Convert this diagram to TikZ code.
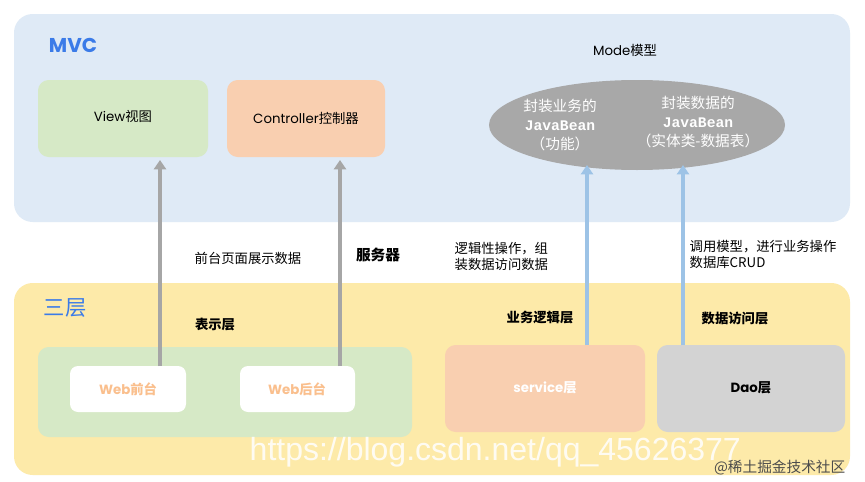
\documentclass[tikz,border=0pt]{standalone}
\usepackage{fontspec}
\setmainfont{Noto Sans CJK SC}
\newfontfamily\lat{Poppins}
\newfontfamily\mon{Liberation Mono}
\usetikzlibrary{shapes.geometric,arrows.meta}
\definecolor{pblue}{HTML}{DFEAF6}
\definecolor{pyel}{HTML}{FDEAA9}
\definecolor{bgreen}{HTML}{D6E9C6}
\definecolor{borange}{HTML}{F9CFB0}
\definecolor{bgray}{HTML}{A8A8A8}
\definecolor{dgray}{HTML}{D3D3D3}
\definecolor{ablue}{HTML}{9DC3E6}
\definecolor{agray}{HTML}{A6A6A6}
\definecolor{tblue}{HTML}{3B7BE8}
\tikzset{
 panel/.style={rounded corners=14pt,draw=none},
 lbl/.style={font=\fontsize{10}{12}\selectfont,anchor=west,align=left},
 bl/.style={font=\bfseries\fontsize{10}{12}\selectfont},
 arr/.style={line width=2.5pt,-{Triangle[length=7pt,width=9pt]}}
}
\begin{document}
\begin{tikzpicture}[x=0.75pt,y=-0.75pt]
\useasboundingbox (0,0) rectangle (865,482);
\fill[white] (0,0) rectangle (865,482);
\fill[pblue,panel] (14,14) rectangle (850,222);
\fill[pyel,panel] (14,283) rectangle (850,475);
\node[font=\lat\bfseries\fontsize{15}{18}\selectfont,text=tblue] (mvc) at (73,45) {MVC};
\node[font=\fontsize{16}{18}\selectfont,text=tblue] (sc) at (65,308) {三层};
\fill[bgreen,rounded corners=8pt] (38,80) rectangle (208,157);
\node (view) at (123,116) {{\lat View}视图};
\fill[borange,rounded corners=8pt] (227,80) rectangle (385,157);
\node (ctrl) at (306,118) {{\lat Controller}控制器};
\node[font=\fontsize{10}{12}\selectfont] (mode) at (625,50) {{\lat Mode}模型};
\node[ellipse,fill=bgray,minimum width=296pt*0.75,minimum height=90pt*0.75] (ell) at (637,125) {};
\node[text=white,align=center,font=\fontsize{11}{14}\selectfont] (e1) at (560,125) {封装业务的\\{\mon\bfseries JavaBean}\\（功能）};
\node[text=white,align=center,font=\fontsize{11}{14}\selectfont] (e2) at (698,122) {封装数据的\\{\mon\bfseries JavaBean}\\（实体类-数据表）};
\fill[bgreen,rounded corners=8pt] (38,347) rectangle (412,437);
\fill[white,rounded corners=6pt] (70,366) rectangle (186,412);
\node[bl,text=borange!80!orange] (wq) at (128,389) {{\lat\bfseries Web}前台};
\fill[white,rounded corners=6pt] (240,366) rectangle (355,412);
\node[bl,text=borange!80!orange] (wh) at (297,389) {{\lat\bfseries Web}后台};
\fill[borange,rounded corners=8pt] (445,345) rectangle (645,432);
\node[bl,text=white] (svc) at (545,388) {{\lat\bfseries service}层};
\fill[dgray,rounded corners=8pt] (657,345) rectangle (845,432);
\node[bl] (dao) at (751,388) {{\lat\bfseries Dao}层};
\node[bl] (bsc) at (215,325) {表示层};
\node[bl] (ywl) at (540,318) {业务逻辑层};
\node[bl] (sjf) at (735,318) {数据访问层};
\node[font=\fontsize{10}{12}\selectfont] (qt) at (248,258) {前台页面展示数据};
\node[bl,font=\bfseries\fontsize{11}{13}\selectfont] (fwq) at (378,255) {服务器};
\node[lbl] (ljx) at (450,256) {逻辑性操作，组\\装数据访问数据};
\node[lbl] (dy) at (685,254) {调用模型，进行业务操作\\数据库CRUD};
\coordinate (a1s) at (160,366); \coordinate (a1e) at (160,160);
\coordinate (a2s) at (340,366); \coordinate (a2e) at (340,160);
\coordinate (a3s) at (587,345); \coordinate (a3e) at (587,165);
\coordinate (a4s) at (683,345); \coordinate (a4e) at (683,165);
\draw[arr,agray] (a1s) -- (a1e);
\draw[arr,agray] (a2s) -- (a2e);
\draw[arr,ablue] (a3s) -- (a3e);
\draw[arr,ablue] (a4s) -- (a4e);
\node[text=white,font=\fontsize{24}{26}\selectfont\fontspec{Liberation Sans},anchor=west,opacity=0.85] (wm) at (245,452) {https://blog.csdn.net/qq\_45626377};
\node[text=black!70,font=\fontsize{11}{13}\selectfont,anchor=east] (jj) at (850,468) {@稀土掘金技术社区};
\end{tikzpicture}
\end{document}
